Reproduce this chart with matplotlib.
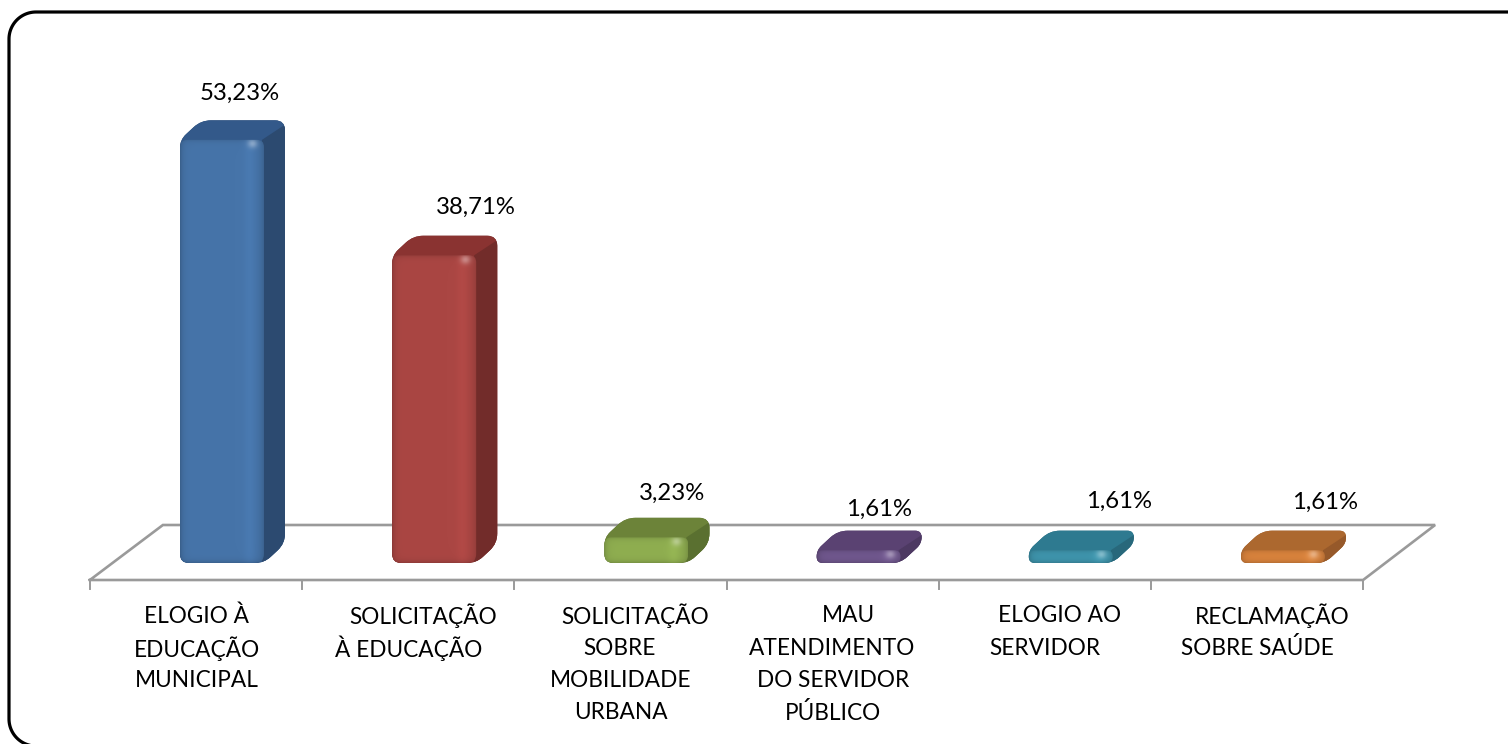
import numpy as np
import matplotlib
matplotlib.use("Agg")
import matplotlib.pyplot as plt
from matplotlib.lines import Line2D
from matplotlib.path import Path
from matplotlib.patches import PathPatch
from matplotlib.transforms import Affine2D
from matplotlib.colors import to_rgb

categories = ["ELOGIO À\nEDUCAÇÃO\nMUNICIPAL",
              "SOLICITAÇÃO\nÀ EDUCAÇÃO",
              "SOLICITAÇÃO\nSOBRE\nMOBILIDADE\nURBANA",
              "MAU\nATENDIMENTO\nDO SERVIDOR\nPÚBLICO",
              "ELOGIO AO\nSERVIDOR",
              "RECLAMAÇÃO\nSOBRE SAÚDE"]
values = [53.23, 38.71, 3.23, 1.61, 1.61, 1.61]
value_labels = ["53,23%", "38,71%", "3,23%", "1,61%", "1,61%", "1,61%"]
front_colors = ["#4674A9", "#AA4643", "#8FAE50", "#71588F", "#3F96AE", "#DB843D"]
top_colors = ["#33598A", "#8A3331", "#6C8339", "#5A4272", "#2E7A90", "#AC682F"]
side_colors = ["#2C4A70", "#722C2A", "#5A7030", "#4D3962", "#28687B", "#96592A"]

# label placement, px centre of each line
label_centres = [[197, 197, 197], [423, 409], [635, 620, 621, 621],
                 [848, 832, 833, 833], [1060, 1045], [1272, 1257]]
value_label_pos = [(240, 93), (476, 207), (672, 493), (879, 509), (1119, 501), (1325, 502)]

W, H = 1508, 744
X0, DX_CAT = 222.0, 212.2
Y0, PX_PER_UNIT = 563.0, 7.95
BAR_W, DEPTH_X, DEPTH_Y = 84.0, 21.0, 19.5
SX, SY = 1 / DX_CAT, 1 / PX_PER_UNIT

fig = plt.figure(figsize=(W / 100, H / 100), dpi=100, facecolor="white")
ax = fig.add_axes([0, 0, 1, 1])
xlim = (-X0 / DX_CAT, (W - X0) / DX_CAT)
ylim = (-(H - Y0) / PX_PER_UNIT, Y0 / PX_PER_UNIT)
ax.axis("off")
px = Affine2D().scale(1, -1).translate(0, H)


def rounded(points, radii):
    """Closed path through data-space points, with corners rounded by radii in px."""
    pts = np.array([(x / SX, y / SY) for x, y in points])
    n = len(pts)
    verts, codes = [], []
    for i in range(n):
        p, a, b = pts[i], pts[i - 1], pts[(i + 1) % n]
        r = radii[i] if np.ndim(radii) else radii
        la, lb = np.linalg.norm(a - p), np.linalg.norm(b - p)
        r = min(r, la / 2, lb / 2)
        s, e = p + (a - p) / la * r, p + (b - p) / lb * r
        verts.append(s)
        codes.append(Path.MOVETO if i == 0 else Path.LINETO)
        verts += [p, e]
        codes += [Path.CURVE3, Path.CURVE3]
    verts.append(verts[0])
    codes.append(Path.CLOSEPOLY)
    return Path(np.array(verts) * [SX, SY], codes)


# floor of the 3-D plot
FLOOR = "#9A9A9A"
edges = np.arange(len(values) + 1) - 0.5
fx = edges - 26 * SX
fy_front, fy_back = -17 * SY, 38 * SY
ax.plot([fx[0], fx[-1], fx[-1] + 72 * SX, fx[0] + 73 * SX, fx[0]],
        [fy_front, fy_front, fy_back, fy_back, fy_front],
        color=FLOOR, lw=1.9, solid_joinstyle="miter", zorder=1)
for x in fx:
    ax.plot([x, x], [fy_front, fy_front - 9 * SY], color=FLOOR, lw=1.4, zorder=1)

# bars
for i, (v, fc, tc, sc) in enumerate(zip(values, front_colors, top_colors, side_colors)):
    x0 = i - BAR_W / 2 * SX
    x1 = i + BAR_W / 2 * SX
    dx, dy = DEPTH_X * SX, DEPTH_Y * SY
    sil = rounded([(x0, 0), (x0, v), (x0 + dx, v + dy), (x1 + dx, v + dy),
                   (x1 + dx, dy), (x1, 0)], [9, 8, 10, 10, 10, 9])
    ax.add_patch(PathPatch(sil, fc=sc, ec="none", zorder=2))
    ax.add_patch(PathPatch(sil, fc=tc, ec="none", zorder=3))
    side_clip = rounded([(x1 - 2 * SX, 0), (x1 - 2 * SX, v), (x1 + dx + 2 * SX, v + dy - 3 * SY),
                         (x1 + dx + 2 * SX, 0)], 0)
    sd = PathPatch(side_clip, fc=sc, ec="none", zorder=3.5)
    ax.add_patch(sd)
    sd.set_clip_path(sil, ax.transData)

    # front face with bevel shading
    front = rounded([(x0, 0), (x0, v), (x1, v), (x1, 0)], [9, 7, 7, 9])
    h_px = v * PX_PER_UNIT
    nx, ny = 84, max(int(h_px), 8)
    xs = np.linspace(0, BAR_W, nx)
    ys = np.linspace(0, h_px, ny)  # from the top
    XX, YY = np.meshgrid(xs, ys)
    base = np.array(to_rgb(fc))
    shade = np.ones_like(XX)
    shade *= 1 - 0.16 * np.exp(-XX / 3.0)
    shade *= 1 - 0.14 * np.exp(-(BAR_W - XX) / 4.0)
    shade *= 1 + 0.05 * np.exp(-((XX - (BAR_W - 14)) / 6.0) ** 2)
    shade *= 1 - 0.12 * np.exp(-YY / 2.5)
    shade *= 1 - 0.14 * np.exp(-(h_px - YY) / 2.5)
    img = np.clip(base[None, None, :] * shade[..., None], 0, 1)
    glow = 0.35 * np.exp(-(((XX - (BAR_W - 11)) / 5.0) ** 2 + ((YY - 4) / 4.5) ** 2))
    img = img + (1 - img) * glow[..., None]
    im = ax.imshow(img, extent=(x0, x1, 0, v), origin="upper", aspect="auto",
                   zorder=4, interpolation="bilinear")
    im.set_clip_path(PathPatch(front, transform=ax.transData))

ax.set_xlim(*xlim)
ax.set_ylim(*ylim)

# texts
FONT = "Lato"
for (tx, ty), s in zip(value_label_pos, value_labels):
    fig.text(tx, ty, s, transform=px, ha="center", va="center", family=FONT,
             fontsize=17.2, color="black")
LINE_Y0, LINE_STEP = 616, 32.3
for cat, centres in zip(categories, label_centres):
    for j, (line, cx) in enumerate(zip(cat.split("\n"), centres)):
        fig.text(cx, LINE_Y0 + j * LINE_STEP, line, transform=px, ha="center", va="center",
                 family=FONT, fontsize=16.3, color="black")

# rounded outer frame: open polyline, leaves the canvas at the right and bottom
R = 27
LEFT, TOP, BOTTOM = 9, 12, 746
t = np.linspace(0, np.pi / 2, 24)
fx_pts = np.concatenate([[1520], LEFT + R - R * np.sin(t), LEFT + R - R * np.cos(t), [LEFT + R]])
fy_pts = np.concatenate([[TOP], TOP + R - R * np.cos(t), BOTTOM - R + R * np.sin(t), [BOTTOM]])
fig.add_artist(Line2D(fx_pts, fy_pts, transform=px, color="black", lw=2.3,
                      solid_joinstyle="round", zorder=10))

fig.savefig("out.png", dpi=100, facecolor="white")
